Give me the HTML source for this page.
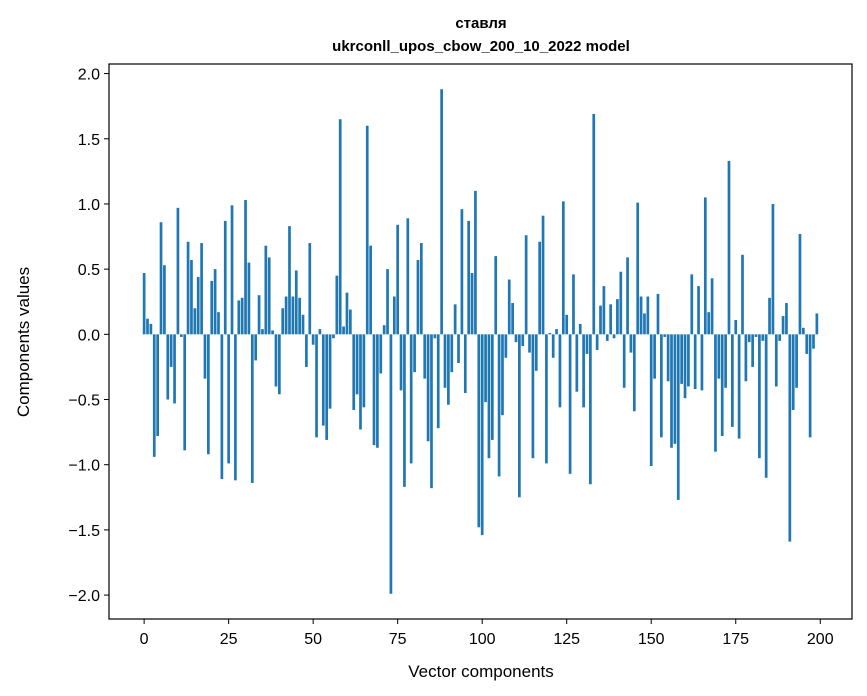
<!DOCTYPE html>
<html><head><meta charset="utf-8"><style>
body{margin:0;background:#fff;}
svg{display:block;font-family:"Liberation Sans","DejaVu Sans",sans-serif;}
</style></head><body>
<svg id="chart" width="867" height="696" viewBox="0 0 867 696">
<rect width="867" height="696" fill="#fff"/>
<text x="481" y="28" text-anchor="middle" font-size="15" font-weight="bold">ставля</text>
<text x="481" y="51" text-anchor="middle" font-size="15" font-weight="bold">ukrconll_upos_cbow_200_10_2022 model</text>
<g id="bars"></g>
<g id="axes"></g>
<text x="481" y="677" text-anchor="middle" font-size="17">Vector components</text>
<text transform="translate(29,342) rotate(-90)" text-anchor="middle" font-size="17">Components values</text>
</svg>
<script>
const values = [0.47,0.12,0.08,-0.94,-0.78,0.86,0.53,-0.50,-0.25,-0.53,0.97,-0.02,-0.89,0.71,0.57,0.20,0.44,0.70,-0.34,-0.92,
0.41,0.50,0.17,-1.11,0.87,-0.99,0.99,-1.12,0.26,0.28,1.03,0.55,-1.14,-0.20,0.30,0.04,0.68,0.59,0.03,-0.40,
-0.46,0.20,0.29,0.83,0.29,0.49,0.28,0.15,-0.25,0.70,-0.08,-0.79,0.04,-0.70,-0.81,-0.57,-0.03,0.45,1.65,0.06,
0.32,0.19,-0.58,-0.46,-0.73,-0.56,1.60,0.68,-0.85,-0.87,-0.30,0.07,0.50,-1.99,0.29,0.84,-0.43,-1.17,0.89,-0.99,
-0.29,0.57,0.70,-0.34,-0.82,-1.18,-0.03,-0.72,1.88,-0.41,-0.54,-0.29,0.23,-0.22,0.96,-0.45,0.87,0.47,1.10,-1.48,
-1.54,-0.52,-0.95,-0.81,0.60,-1.09,-0.62,-0.18,0.42,0.24,-0.06,-1.25,-0.09,0.76,-0.14,-0.95,-0.28,0.71,0.91,-0.99,
0.01,-0.18,0.04,-0.56,1.02,0.15,-1.07,0.46,-0.44,0.08,-0.56,-0.15,-1.15,1.69,-0.12,0.22,0.37,-0.05,0.23,-0.03,
0.27,0.48,-0.41,0.59,-0.14,-0.59,1.01,0.29,0.16,0.29,-1.01,-0.34,0.31,-0.79,-0.02,-0.36,-0.87,-0.84,-1.27,-0.38,
-0.49,-0.40,0.46,-0.42,0.37,-0.43,1.05,0.17,0.43,-0.90,-0.34,-0.78,-0.41,1.33,-0.71,0.11,-0.80,0.61,-0.36,-0.06,
-0.25,-0.02,-0.95,-0.05,-1.10,0.28,1.00,-0.40,-0.05,0.14,0.24,-1.59,-0.58,-0.41,0.77,0.05,-0.15,-0.79,-0.11,0.16];
const xTicks = [0,25,50,75,100,125,150,175,200];
const yTicks = [-2.0,-1.5,-1.0,-0.5,0.0,0.5,1.0,1.5,2.0];
const yTickLabels = ["\u22122.0","\u22121.5","\u22121.0","\u22120.5","0.0","0.5","1.0","1.5","2.0"];

const NS="http://www.w3.org/2000/svg";
const L=109,R=852,T=64,B=619;
const n=values.length;
const xmin=-0.4-0.05*(n-0.2), xmax=(n-1)+0.4+0.05*(n-0.2);
const vmax=Math.max(...values), vmin=Math.min(...values);
const span=Math.max(vmax,0)-Math.min(vmin,0);
const ymax=Math.max(vmax,0)+0.05*span, ymin=Math.min(vmin,0)-0.05*span;
function sx(v){return L+(v-xmin)/(xmax-xmin)*(R-L);}
function sy(v){return T+(ymax-v)/(ymax-ymin)*(B-T);}
const bars=document.getElementById('bars');
values.forEach((v,i)=>{
  const r=document.createElementNS(NS,'rect');
  const x0=sx(i-0.4),x1=sx(i+0.4);
  const y0=sy(Math.max(v,0)),y1=sy(Math.min(v,0));
  r.setAttribute('x',x0);r.setAttribute('width',x1-x0);
  r.setAttribute('y',y0);r.setAttribute('height',Math.max(y1-y0,0.01));
  r.setAttribute('fill','#1f77b4');
  
  
  bars.appendChild(r);
});
const ax=document.getElementById('axes');
const frame=document.createElementNS(NS,'rect');
frame.setAttribute('x',L);frame.setAttribute('y',T);frame.setAttribute('width',R-L);frame.setAttribute('height',B-T);
frame.setAttribute('fill','none');frame.setAttribute('stroke','#000');frame.setAttribute('stroke-width','1.2');


ax.appendChild(frame);
xTicks.forEach(t=>{
  const x=sx(t);
  const l=document.createElementNS(NS,'line');
  l.setAttribute('x1',x);l.setAttribute('x2',x);l.setAttribute('y1',B);l.setAttribute('y2',B+5);l.setAttribute('stroke','#000');
  
  
  ax.appendChild(l);
  const tx=document.createElementNS(NS,'text');
  tx.setAttribute('x',x);tx.setAttribute('y',B+25);tx.setAttribute('text-anchor','middle');tx.setAttribute('font-size','16');
  tx.textContent=t;
  
  
  ax.appendChild(tx);
});
yTicks.forEach((t,i)=>{
  const y=sy(t);
  const l=document.createElementNS(NS,'line');
  l.setAttribute('x1',L-5);l.setAttribute('x2',L);l.setAttribute('y1',y);l.setAttribute('y2',y);l.setAttribute('stroke','#000');
  
  
  ax.appendChild(l);
  const tx=document.createElementNS(NS,'text');
  tx.setAttribute('x',L-9);tx.setAttribute('y',y+6);tx.setAttribute('text-anchor','end');tx.setAttribute('font-size','16');
  tx.textContent=yTickLabels[i];
  
  
  ax.appendChild(tx);
});
</script>
</body></html>
